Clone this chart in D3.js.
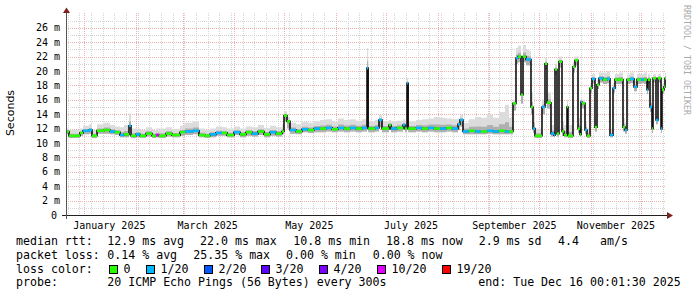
<!DOCTYPE html>
<html>
<head>
<meta charset="utf-8">
<script src="https://cdn.jsdelivr.net/npm/d3@7"></script>
<style>
  body { margin: 0; background: #fff; }
  text { font-family: "DejaVu Sans Mono", monospace; fill: #000; }
</style>
</head>
<body>
<div id="chart"></div>
<script>
const endTime = new Date(2025, 11, 16, 0, 1, 30);
const spanDays = 360;

// samples: days since start of the graph, median rtt (ms), loss bucket, smoke min / max (ms)
const day = [
  0, 1.8, 8.4, 10.2, 13.8, 15.6, 18.6, 22.8, 26.4, 29.4,
  32.4, 34.8, 37.8, 39.0, 42.0, 44.4, 48.0, 51.6, 54.0, 55.8,
  60.0, 63.6, 68.4, 71.4, 76.2, 79.8, 83.4, 86.4, 90.0, 93.6,
  96.6, 100.8, 104.4, 108.0, 111.6, 115.2, 118.8, 122.4, 126.0, 129.6,
  130.8, 132.6, 134.4, 138.0, 141.6, 145.2, 148.8, 152.4, 156.0, 159.6,
  163.2, 166.8, 170.4, 174.0, 177.6, 180.6, 181.3, 185.4, 187.8, 189.6,
  193.8, 195.0, 198.6, 202.2, 203.4, 204.6, 205.3, 210.0, 213.6, 217.2,
  220.8, 224.4, 228.0, 231.6, 235.2, 236.4, 238.2, 241.8, 245.4, 249.0,
  252.6, 256.2, 259.8, 263.4, 265.8, 268.2, 270.0, 271.2, 273.0, 274.2,
  276.0, 277.8, 279.0, 280.2, 281.4, 285.6, 287.4, 288.6, 291.0, 292.8,
  293.4, 294.6, 295.8, 297.6, 298.8, 300.6, 301.2, 304.2, 305.4, 307.2,
  308.4, 309.0, 309.6, 311.4, 312.6, 314.4, 315.6, 317.4, 318.6, 319.8,
  322.2, 324.6, 326.4, 328.2, 329.4, 331.8, 334.2, 335.4, 336.6, 338.4,
  340.8, 342.6, 345.0, 346.8, 348.6, 349.2, 350.4, 351.6, 352.2, 353.4,
  354.0, 355.2, 357.0, 357.6, 358.8, 359.4
];
const median = [
  11.6, 11.0, 11.4, 11.7, 11.8, 11.0, 11.7, 11.8, 11.6, 11.5,
  11.1, 11.2, 12.4, 11.0, 11.2, 11.0, 11.3, 11.0, 11.1, 11.0,
  11.3, 11.1, 11.5, 11.6, 11.7, 11.1, 11.0, 11.2, 11.4, 11.4,
  11.1, 11.5, 11.2, 11.5, 11.3, 11.6, 11.2, 11.5, 11.3, 11.6,
  13.8, 13.0, 11.8, 11.6, 11.9, 11.8, 12.0, 12.0, 12.1, 11.9,
  12.1, 12.0, 12.1, 12.0, 12.1, 20.4, 12.0, 12.1, 13.2, 12.0,
  12.5, 12.0, 12.1, 12.5, 12.0, 18.3, 12.0, 12.1, 12.0, 12.1,
  12.0, 12.0, 12.1, 12.0, 12.6, 13.2, 11.6, 11.7, 11.6, 11.6,
  11.7, 11.6, 11.7, 11.6, 11.6, 15.5, 21.8, 22.0, 16.7, 22.0,
  21.6, 21.6, 15.0, 12.0, 11.0, 15.0, 21.0, 15.6, 11.3, 11.1,
  20.2, 11.3, 21.3, 11.6, 11.1, 15.0, 11.0, 20.6, 21.5, 12.0,
  11.2, 15.7, 15.5, 11.8, 11.0, 17.6, 18.9, 12.2, 18.1, 19.0,
  18.8, 18.9, 11.1, 17.6, 18.8, 18.8, 12.2, 11.8, 18.8, 18.9,
  17.8, 18.8, 18.8, 18.8, 17.4, 18.8, 15.0, 12.0, 19.0, 19.0,
  13.2, 19.0, 12.0, 17.4, 17.8, 19.0
];
const loss = [
  0, 0, 0, 1, 1, 0, 0, 0, 1, 0,
  1, 0, 1, 0, 1, 0, 0, 0, 5, 0,
  0, 0, 0, 1, 1, 0, 0, 1, 1, 0,
  0, 1, 0, 0, 1, 0, 0, 1, 0, 0,
  0, 0, 1, 0, 1, 0, 1, 0, 1, 0,
  1, 0, 1, 0, 1, 1, 0, 1, 1, 0,
  0, 1, 0, 1, 0, 1, 0, 1, 0, 1,
  0, 1, 0, 1, 1, 1, 1, 0, 1, 0,
  1, 1, 0, 1, 0, 0, 1, 0, 0, 0,
  1, 1, 0, 1, 0, 1, 0, 0, 1, 1,
  0, 0, 0, 0, 0, 0, 0, 0, 0, 0,
  0, 1, 0, 1, 0, 0, 1, 0, 0, 1,
  0, 1, 1, 1, 0, 0, 0, 1, 0, 1,
  1, 0, 1, 0, 1, 0, 1, 0, 0, 0,
  1, 0, 1, 0, 0, 0
];
const smokeLo = [
  11.2, 10.7, 11.0, 11.2, 11.3, 10.7, 11.3, 11.3, 11.2, 11.1,
  10.8, 10.8, 11.8, 10.7, 10.8, 10.7, 10.9, 10.7, 10.8, 10.7,
  10.9, 10.8, 11.0, 11.1, 11.2, 10.8, 10.7, 10.8, 11.0, 11.0,
  10.8, 11.1, 10.8, 11.0, 10.9, 11.1, 10.8, 11.0, 10.9, 11.2,
  13.0, 12.0, 11.3, 11.2, 11.5, 11.4, 11.5, 11.5, 11.6, 11.5,
  11.6, 11.5, 11.6, 11.5, 11.6, 19.5, 11.5, 11.6, 12.2, 11.5,
  11.8, 11.5, 11.6, 11.8, 11.5, 17.8, 11.5, 11.6, 11.5, 11.6,
  11.5, 11.5, 11.6, 11.5, 11.8, 12.3, 11.2, 11.2, 11.2, 11.2,
  11.3, 11.2, 11.2, 11.2, 11.2, 14.5, 21.0, 21.2, 15.5, 21.2,
  20.8, 20.8, 14.0, 11.4, 10.7, 14.0, 20.2, 14.8, 10.9, 10.8,
  19.5, 10.9, 20.5, 11.0, 10.8, 14.0, 10.7, 19.8, 20.8, 11.4,
  10.9, 15.0, 14.8, 11.3, 10.7, 17.0, 18.3, 11.6, 17.5, 18.4,
  18.2, 18.3, 10.8, 17.0, 18.2, 18.2, 11.6, 11.3, 18.2, 18.3,
  17.2, 18.2, 18.3, 18.2, 16.8, 18.2, 14.3, 11.4, 18.4, 18.3,
  12.6, 18.4, 11.4, 16.8, 17.2, 18.3
];
const smokeHi = [
  12.0, 11.8, 12.0, 12.4, 12.6, 11.8, 12.6, 12.8, 12.5, 12.3,
  12.2, 12.5, 14.1, 12.0, 12.0, 11.8, 12.2, 11.8, 12.0, 12.0,
  12.2, 11.9, 12.4, 12.8, 13.0, 12.0, 11.8, 12.0, 12.3, 12.2,
  12.0, 12.3, 12.0, 12.3, 12.2, 12.5, 12.1, 12.4, 12.2, 12.6,
  14.4, 13.6, 12.8, 12.6, 12.9, 12.8, 13.0, 13.2, 13.3, 13.0,
  13.4, 13.2, 13.3, 13.1, 13.3, 23.2, 13.0, 13.2, 13.9, 13.0,
  13.2, 13.0, 13.1, 13.3, 13.1, 19.0, 13.0, 13.2, 13.3, 13.4,
  13.6, 13.5, 13.4, 13.3, 13.4, 13.9, 12.8, 13.3, 13.6, 13.5,
  14.0, 13.5, 14.3, 15.3, 13.5, 16.0, 23.2, 23.5, 18.0, 23.6,
  23.0, 22.8, 17.0, 14.5, 12.0, 16.0, 21.8, 17.0, 12.5, 12.0,
  21.0, 12.5, 22.0, 13.0, 12.5, 16.0, 12.5, 21.3, 22.0, 13.5,
  12.5, 16.2, 16.0, 13.0, 12.0, 18.3, 19.6, 13.5, 18.8, 19.8,
  19.8, 20.0, 12.0, 18.3, 19.6, 19.8, 13.5, 12.8, 19.5, 19.8,
  18.6, 19.6, 19.6, 19.8, 18.3, 19.6, 16.5, 13.5, 19.6, 19.6,
  14.5, 19.6, 13.5, 18.2, 18.5, 19.8
];

const yTicks = [0, 2, 4, 6, 8, 10, 12, 14, 16, 18, 20, 22, 24, 26];
const lossLabels = ["0", "1/20", "2/20", "3/20", "4/20", "10/20", "19/20"];
const lossColors = ["#26ff00", "#00b8ff", "#0059ff", "#5e00ff", "#7e00ff", "#dd00ff", "#ff0000"];

const statRows = [
  ["median rtt:", "12.9 ms avg", "22.0 ms max", "10.8 ms min", "18.8 ms now", "2.9 ms sd", "4.4", "am/s"],
  ["packet loss:", "0.14 % avg", "25.35 % max", "0.00 % min", "0.00 % now"],
  ["loss color:"],
  ["probe:", "20 ICMP Echo Pings (56 Bytes) every 300s", "end: Tue Dec 16 00:01:30 2025"]
];

// layout
const width = 697, height = 297;
const plot = { left: 66, right: 666, top: 13.4, bottom: 215 };
const statX = [
  [16, 107.3, 200, 293.3, 386, 478.7, 558, 600],
  [16, 107.3, 193.3, 286, 372.7],
  [16],
  [16, 107.3, 478.3]
];
const rowY = [245, 258.7, 272.5, 286.2];
const swatchX = [109, 146, 204, 261, 319, 377, 442];

const startTime = new Date(endTime.getTime() - spanDays * 864e5);
const toDate = d => new Date(startTime.getTime() + d * 864e5);

const svg = d3.select("#chart")
  .append("svg")
  .attr("width", width)
  .attr("height", height)
  .style("background", "#fff");

const x = d3.scaleTime().domain([startTime, endTime]).range([plot.left, plot.right]);
const y = d3.scaleLinear().domain([0, 28]).range([plot.bottom, plot.top]);

// grid
const grid = svg.append("g").attr("shape-rendering", "crispEdges").attr("stroke-dasharray", "1,1");
grid.selectAll(".wk")
  .data(d3.timeSunday.range(startTime, endTime))
  .enter().append("line")
  .attr("x1", d => Math.round(x(d)) + 0.5).attr("x2", d => Math.round(x(d)) + 0.5)
  .attr("y1", plot.top).attr("y2", plot.bottom)
  .attr("stroke", "#d4d4d4");
grid.selectAll(".ms")
  .data(d3.range(1, 28).filter(v => v % 2))
  .enter().append("line")
  .attr("x1", plot.left).attr("x2", plot.right)
  .attr("y1", d => Math.round(y(d)) + 0.5).attr("y2", d => Math.round(y(d)) + 0.5)
  .attr("stroke", "#d4d4d4");
grid.selectAll(".mo")
  .data(d3.timeMonth.range(startTime, endTime))
  .enter().append("line")
  .attr("x1", d => Math.round(x(d)) + 0.5).attr("x2", d => Math.round(x(d)) + 0.5)
  .attr("y1", plot.top).attr("y2", plot.bottom)
  .attr("stroke", "#f0b0b0");
grid.selectAll(".mj")
  .data(yTicks.filter(v => v > 0))
  .enter().append("line")
  .attr("x1", plot.left).attr("x2", plot.right)
  .attr("y1", d => Math.round(y(d)) + 0.5).attr("y2", d => Math.round(y(d)) + 0.5)
  .attr("stroke", "#f0b0b0");

// samples, last one carried to the end of the graph
const pts = day.map((d, i) => ({ t: toDate(d), m: median[i], l: loss[i], lo: smokeLo[i], hi: smokeHi[i] }));
const last = pts[pts.length - 1];
const stepPts = pts.concat([Object.assign({}, last, { t: endTime })]);

// smoke
const outer = d3.area().curve(d3.curveStepAfter)
  .x(d => x(d.t)).y0(d => y(d.lo)).y1(d => y(d.hi));
const inner = d3.area().curve(d3.curveStepAfter)
  .x(d => x(d.t)).y0(d => y(d.lo)).y1(d => y(d.m + (d.hi - d.m) * 0.35));
svg.append("path").datum(stepPts).attr("d", outer).attr("fill", "#dcdcdc");
svg.append("path").datum(stepPts).attr("d", inner).attr("fill", "#b0b0b0");

// median
const medLine = d3.line().curve(d3.curveStepAfter).x(d => x(d.t)).y(d => y(d.m));
svg.append("path").datum(stepPts).attr("d", medLine)
  .attr("fill", "none").attr("stroke", "#111").attr("stroke-width", 1.6);

svg.append("g").selectAll("line")
  .data(pts)
  .enter().append("line")
  .attr("x1", d => x(d.t))
  .attr("x2", (d, i) => x(stepPts[i + 1].t))
  .attr("y1", d => y(d.m)).attr("y2", d => y(d.m))
  .attr("stroke", d => lossColors[d.l])
  .attr("stroke-width", 2.6);

// axes
svg.append("line")
  .attr("x1", plot.left - 4).attr("x2", plot.right + 6)
  .attr("y1", plot.bottom + 0.5).attr("y2", plot.bottom + 0.5)
  .attr("stroke", "#1f1f1f").attr("shape-rendering", "crispEdges");
svg.append("line")
  .attr("x1", plot.left + 0.5).attr("x2", plot.left + 0.5)
  .attr("y1", plot.bottom + 4).attr("y2", 10)
  .attr("stroke", "#555").attr("shape-rendering", "crispEdges");
svg.append("path")
  .attr("d", `M${plot.right + 1},${plot.bottom - 3}L${plot.right + 7},${plot.bottom + 0.5}L${plot.right + 1},${plot.bottom + 4}Z`)
  .attr("fill", "#7f1f1f");
svg.append("path")
  .attr("d", `M${plot.left - 3},${13}L${plot.left + 0.5},${7.5}L${plot.left + 4},${13}Z`)
  .attr("fill", "#7f1f1f");

// tick labels
svg.append("g").selectAll("text")
  .data(yTicks)
  .enter().append("text")
  .attr("x", d => d === 0 ? 57 : 60)
  .attr("y", d => y(d) + 3.6)
  .attr("text-anchor", "end")
  .attr("font-size", "10px")
  .text(d => d === 0 ? "0" : `${d} m`);

svg.append("g").selectAll("text")
  .data(d3.timeMonth.every(2).range(startTime, endTime))
  .enter().append("text")
  .attr("x", d => x(d3.timeDay.offset(d, 15)))
  .attr("y", 228.5)
  .attr("text-anchor", "middle")
  .attr("font-size", "10px")
  .text(d3.timeFormat("%B %Y"));

svg.append("text")
  .attr("transform", "translate(14,113) rotate(-90)")
  .attr("text-anchor", "middle")
  .style("font-family", "'DejaVu Sans', sans-serif")
  .attr("font-size", "11px")
  .text("Seconds");

svg.append("text")
  .attr("transform", "translate(686.5,5) rotate(90)")
  .attr("dominant-baseline", "central")
  .attr("font-size", "8.3px")
  .style("fill", "#aaa")
  .text("RRDTOOL / TOBI OETIKER");

// legend
statRows.forEach((row, r) => {
  row.forEach((s, c) => {
    svg.append("text")
      .attr("x", statX[r][c]).attr("y", rowY[r])
      .attr("font-size", "11.6px")
      .attr("xml:space", "preserve")
      .text(s);
  });
});

const sw = svg.append("g").selectAll("g")
  .data(lossLabels)
  .enter().append("g");
sw.append("rect")
  .attr("x", (d, i) => swatchX[i] + 0.5).attr("y", 265.5)
  .attr("width", 8).attr("height", 8)
  .attr("fill", (d, i) => lossColors[i])
  .attr("stroke", "#000").attr("shape-rendering", "crispEdges");
sw.append("text")
  .attr("x", (d, i) => swatchX[i] + 14.5).attr("y", rowY[2])
  .attr("font-size", "11.6px")
  .text(d => d);
</script>
</body>
</html>
